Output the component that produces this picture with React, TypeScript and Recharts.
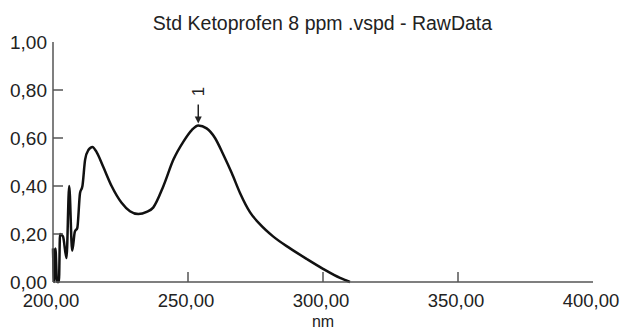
import React from 'react';
import { LineChart, Line, XAxis, YAxis, ReferenceDot } from 'recharts';

const wavelengths = [
  200.0, 200.4, 200.9, 201.5, 202.2, 202.6, 203.7, 205.0, 206.0, 207.1, 208.1, 209.0,
  210.0, 210.9, 211.9, 213.1, 214.6, 216.2, 218.6, 221.7, 225.4, 228.5, 231.6, 234.7,
  237.1, 240.9, 244.6, 248.3, 251.4, 253.8, 256.9, 260.0, 263.1, 266.2, 269.3, 273.0,
  276.7, 281.5, 287.8, 294.1, 300.0, 306.3, 310.0,
];
const absorbance = [
  0.14, 0.0, 0.14, 0.0, 0.0, 0.2, 0.19, 0.1, 0.4, 0.13, 0.21, 0.225,
  0.37, 0.4, 0.51, 0.55, 0.563, 0.54, 0.48, 0.4, 0.33, 0.295, 0.283, 0.292,
  0.31, 0.4, 0.51, 0.585, 0.633, 0.652, 0.64, 0.6, 0.53, 0.454, 0.37, 0.29,
  0.24, 0.19, 0.14, 0.095, 0.055, 0.017, 0.0,
];
const xTicks = [200, 250, 300, 350, 400];
const yTicks = [0, 0.2, 0.4, 0.6, 0.8, 1.0];
const peakWavelength = 253.8;
const peakAbsorbance = 0.652;
const peakLabel = '1';
const title = 'Std Ketoprofen 8 ppm .vspd - RawData';
const xLabel = 'nm';

const data = wavelengths.map((w, i) => ({ nm: w, abs: absorbance[i] }));

const FONT = '"Liberation Sans", Arial, sans-serif';
const FRAME = '#555';
const fmt = (v: number) => v.toFixed(2).replace('.', ',');

const XTick = (props: any) => {
  const { x, y, payload } = props;
  const v = payload.value;
  const inner = v !== xTicks[0] && v !== xTicks[xTicks.length - 1];
  return (
    <g>
      {inner && <line x1={x} y1={y} x2={x} y2={y - 10} stroke={FRAME} strokeWidth={1.5} />}
      <text x={x - 2} y={y + 25} textAnchor="middle" fontSize={18.5} fontFamily={FONT} fill="#222">
        {fmt(v)}
      </text>
    </g>
  );
};

const YTickLeft = (props: any) => {
  const { x, y, payload } = props;
  const v = payload.value;
  const inner = v !== yTicks[0] && v !== yTicks[yTicks.length - 1];
  return (
    <g>
      {inner && <line x1={x} y1={y} x2={x + 10} y2={y} stroke={FRAME} strokeWidth={1.5} />}
      <text x={x - 6} y={y + 7} textAnchor="end" fontSize={19} fontFamily={FONT} fill="#222">
        {fmt(v)}
      </text>
    </g>
  );
};

const YTickRight = (props: any) => {
  const { x, y, payload } = props;
  const v = payload.value;
  const inner = v !== yTicks[0] && v !== yTicks[yTicks.length - 1];
  if (!inner) return <g />;
  return <line x1={x} y1={y} x2={x - 11} y2={y} stroke={FRAME} strokeWidth={1.5} />;
};

const XLabel = (props: any) => {
  const vb = props.viewBox || {};
  const cx = (vb.x ?? 0) + (vb.width ?? 0) / 2;
  const by = (vb.y ?? 0) + (vb.height ?? 0) - 4;
  return (
    <text x={cx} y={by} textAnchor="middle" fontSize={16} fontFamily={FONT} fill="#222">
      {xLabel}
    </text>
  );
};

const PeakMarker = (props: any) => {
  const { cx, cy } = props;
  if (cx == null || cy == null) return <g />;
  const tipY = cy - 2;
  const topY = cy - 21;
  return (
    <g>
      <line x1={cx} y1={topY} x2={cx} y2={tipY - 5} stroke="#222" strokeWidth={1.5} />
      <path d={`M${cx - 3.5},${tipY - 7} L${cx + 3.5},${tipY - 7} L${cx},${tipY} Z`} fill="#222" />
      <text
        x={cx}
        y={cy - 34}
        transform={`rotate(-90 ${cx} ${cy - 34})`}
        textAnchor="middle"
        dominantBaseline="central"
        fontSize={17}
        fontFamily={FONT}
        fill="#222"
      >
        {peakLabel}
      </text>
    </g>
  );
};

export default function App() {
  return (
    <div style={{ position: 'absolute', left: 0, top: 0, width: 621, height: 331, background: '#fff' }}>
      <div
        style={{
          position: 'absolute',
          left: 0,
          top: 12,
          width: 645,
          textAlign: 'center',
          fontFamily: FONT,
          fontSize: 19.5,
          lineHeight: '22px',
          color: '#222',
        }}
      >
        {title}
      </div>
      <LineChart width={621} height={331} data={data} margin={{ top: 42, right: 28, bottom: 0, left: 0 }}>
        <XAxis
          xAxisId="b"
          dataKey="nm"
          type="number"
          domain={[200, 400]}
          ticks={xTicks}
          height={49}
          tickSize={0}
          tickMargin={0}
          tickLine={false}
          axisLine={{ stroke: FRAME, strokeWidth: 1.5 }}
          tick={<XTick />}
          interval={0}
          label={<XLabel />}
        />
        <XAxis
          xAxisId="t"
          orientation="top"
          dataKey="nm"
          type="number"
          domain={[200, 400]}
          height={0}
          tick={false}
          tickLine={false}
          axisLine={{ stroke: FRAME, strokeWidth: 1.5 }}
        />
        <YAxis
          yAxisId="l"
          type="number"
          domain={[0, 1]}
          ticks={yTicks}
          width={53}
          tickSize={0}
          tickMargin={0}
          tickLine={false}
          axisLine={{ stroke: FRAME, strokeWidth: 1.5 }}
          tick={<YTickLeft />}
          interval={0}
        />
        <YAxis
          yAxisId="r"
          orientation="right"
          type="number"
          domain={[0, 1]}
          ticks={yTicks}
          width={0}
          tickSize={0}
          tickMargin={0}
          tickLine={false}
          axisLine={{ stroke: FRAME, strokeWidth: 1.5 }}
          tick={<YTickRight />}
          interval={0}
        />
        <Line
          xAxisId="b"
          yAxisId="l"
          type="monotone"
          dataKey="abs"
          stroke="#111"
          strokeWidth={2.5}
          dot={false}
          isAnimationActive={false}
        />
        <ReferenceDot
          xAxisId="b"
          yAxisId="l"
          x={peakWavelength}
          y={peakAbsorbance}
          shape={<PeakMarker />}
          ifOverflow="visible"
        />
      </LineChart>
    </div>
  );
}
